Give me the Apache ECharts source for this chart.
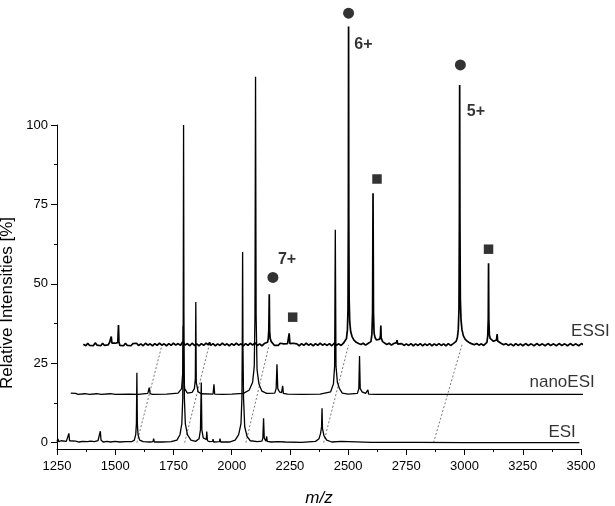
<!DOCTYPE html>
<html>
<head>
<meta charset="utf-8">
<title>Relative Intensities - ESI / nanoESI / ESSI</title>
<script src="https://cdn.jsdelivr.net/npm/echarts@6/dist/echarts.min.js"></script>
<style>
  html, body { margin: 0; padding: 0; background: #fff; }
  #chart { width: 615px; height: 506px; }
</style>
</head>
<body>
<div id="chart"></div>
<script>
/**
 * Stacked mass spectra: ESI, nanoESI and ESSI (offset baselines).
 */

// axis ticks
var xLabels = [1250, 1500, 1750, 2000, 2250, 2500, 2750, 3000, 3250, 3500];
var xMinorTicks = [1375, 1625, 1875, 2125, 2375, 2625, 2875, 3125, 3375];
var yLabels = [0, 25, 50, 75, 100];
var yMinorTicks = [12.5, 37.5, 62.5, 87.5];

// trace names and the point their label is anchored to (right / middle)
var traceNames = ['ESI', 'nanoESI', 'ESSI'];
var traceLabelAt = [[3480, 3.0], [3561, 18.8], [3626, 34.8]];

// ESI spectrum, baseline 0  [m/z, %]
var esiData = [
  [1250, 0.4], [1254, 1.2], [1258, 0.3], [1268, 0.6], [1276, 0.3], [1290, 0.4], [1298, 0.8], [1301, 2.9],
  [1304, 0.6], [1312, 0.3], [1330, 0.5], [1345, 0.2], [1360, 0.4], [1380, 0.3], [1395, 0.5], [1410, 0.3],
  [1426, 0.6], [1433, 1.2], [1436, 3.6], [1439, 0.8], [1448, 0.2], [1465, 0.4], [1480, 0.2], [1500, 0.4],
  [1520, 0.2], [1545, 0.3], [1570, 0.3], [1582, 0.8], [1588, 2.5], [1591, 6], [1593, 22], [1595, 6],
  [1598, 2.5], [1605, 0.8], [1620, 0.3], [1650, 0.2], [1662, 0.3], [1665, 1.3], [1668, 0.2], [1700, 0.2],
  [1740, 0.3], [1765, 0.8], [1778, 2.5], [1786, 6], [1790, 14], [1792, 40], [1793.5, 100], [1795, 40],
  [1797, 14], [1801, 6], [1810, 2.5], [1825, 0.8], [1845, 0.4], [1860, 1.2], [1866, 4], [1869.5, 18.9],
  [1872, 4], [1878, 1.5], [1886, 1], [1891, 1], [1893, 3.5], [1896, 0.6], [1905, 0.3], [1918, 0.4],
  [1920, 1.1], [1923, 0.2], [1948, 0.3], [1950, 1.3], [1953, 0.2], [1990, 0.2], [2015, 0.8], [2030, 2.5],
  [2040, 6], [2044, 14], [2045.5, 30], [2047, 60], [2048.5, 30], [2051, 14], [2056, 5], [2066, 2],
  [2080, 0.6], [2110, 0.3], [2130, 0.5], [2134, 1.5], [2137, 7.7], [2140, 1.4], [2147, 0.5], [2150, 2],
  [2153, 0.4], [2170, 0.2], [2200, 0.3], [2230, 0.2], [2300, 0.1], [2360, 0.4], [2375, 1.2], [2382, 3],
  [2386, 5], [2388, 10.8], [2390, 4.5], [2396, 2.2], [2408, 0.8], [2430, 0.2], [2470, 0.4], [2475, 0.1],
  [2600, 0.1], [2800, 0.1], [3000, 0], [3250, 0], [3493, 0]
];

// nanoESI spectrum, baseline 15.2
var nanoData = [
  [1309, 15.6], [1312, 15.2], [1330, 15.5], [1340, 15.2], [1370, 15.4], [1390, 15.2], [1420, 15.4], [1440, 15.2],
  [1480, 15.4], [1500, 15.2], [1560, 15.3], [1600, 15.2], [1640, 15.5], [1646, 17.3], [1650, 15.4], [1660, 15.2],
  [1720, 15.3], [1770, 15.6], [1785, 17], [1790, 22], [1792, 36.7], [1794, 22], [1798, 17], [1810, 15.6],
  [1830, 15.8], [1840, 17], [1844, 20], [1846, 44.3], [1848, 19], [1852, 17.5], [1856, 16], [1870, 15.4],
  [1920, 15.3], [1924, 18.4], [1927, 15.3], [1960, 15.2], [2000, 15.3], [2050, 15.5], [2075, 16.5], [2090, 19],
  [2097, 24], [2100, 40], [2102.5, 115.2], [2105, 40], [2109, 23], [2117, 18.5], [2130, 16.2], [2150, 15.5],
  [2185, 15.6], [2191, 17], [2194.5, 24.7], [2198, 17], [2205, 16], [2214, 15.7], [2219, 17.9], [2222, 15.5],
  [2240, 15.3], [2300, 15.2], [2380, 15.3], [2425, 16], [2437, 18.5], [2442, 24], [2445, 67], [2448, 24],
  [2454, 19], [2463, 17], [2475, 15.6], [2500, 15.3], [2540, 15.5], [2546, 17], [2549, 27.3], [2552, 17],
  [2560, 16], [2575, 15.5], [2585, 16.6], [2588, 15.3], [2620, 15.2], [2800, 15.2], [2918, 15.2], [2920, 15.8],
  [2922, 15.2], [3200, 15.2], [3561, 15.2]
];

// ESSI spectrum, baseline 30.8 (noisy)
var essiData = [
  [1363, 31.0], [1368, 31.6], [1374, 30.5], [1382, 31.3], [1390, 30.6], [1398, 31.2], [1406, 30.5], [1414, 31.4],
  [1422, 30.7], [1430, 31.1], [1438, 30.5], [1446, 31.3], [1454, 30.6], [1462, 31.2], [1470, 30.8], [1476, 31.6],
  [1480, 31.4], [1483, 33.4], [1486, 31.3], [1492, 30.7], [1500, 31.3], [1506, 30.8], [1511, 31.5], [1514, 37.0],
  [1516, 31.8], [1520, 30.6], [1528, 31.2], [1536, 30.5], [1544, 31.3], [1552, 30.6], [1560, 31.1], [1568, 30.5],
  [1576, 31.2], [1584, 30.7], [1592, 31.3], [1600, 30.6], [1610, 31.1], [1620, 30.5], [1630, 31.3], [1640, 30.7],
  [1650, 31.1], [1660, 30.5], [1670, 31.2], [1680, 30.6], [1690, 31.3], [1700, 30.7], [1710, 31.1], [1720, 30.5],
  [1730, 31.2], [1740, 30.6], [1750, 31.3], [1760, 30.7], [1770, 31.2], [1780, 30.6], [1790, 31.8], [1800, 30.7],
  [1810, 31.2], [1820, 30.5], [1830, 31.3], [1840, 30.6], [1850, 31.1], [1860, 30.5], [1870, 31.2], [1880, 30.6],
  [1890, 31.3], [1900, 30.8], [1905, 31.6], [1910, 30.6], [1920, 31.2], [1930, 30.5], [1940, 31.1], [1950, 30.6],
  [1960, 31.3], [1970, 30.7], [1980, 31.1], [1990, 30.5], [2000, 31.2], [2010, 30.6], [2020, 31.3], [2030, 30.7],
  [2040, 31.1], [2050, 30.5], [2060, 31.2], [2070, 30.6], [2080, 31.3], [2090, 30.7], [2100, 31.4], [2110, 30.6],
  [2120, 31.1], [2130, 30.5], [2140, 31.2], [2148, 30.8], [2154, 31.6], [2157, 32.6], [2159.5, 35.5], [2161.5, 46.7],
  [2163, 35.2], [2165.5, 32.8], [2170, 31.8], [2176, 31.2], [2184, 30.6], [2192, 31.2], [2200, 30.6], [2208, 31.3],
  [2216, 30.7], [2224, 31.1], [2232, 30.6], [2240, 31.2], [2244, 31.4], [2247, 34.4], [2250, 31.2], [2256, 30.6],
  [2264, 31.3], [2272, 30.7], [2280, 31.1], [2290, 30.5], [2300, 31.2], [2310, 30.6], [2320, 31.3], [2330, 30.7],
  [2340, 31.1], [2350, 30.5], [2360, 31.2], [2370, 30.6], [2380, 31.3], [2390, 30.7], [2400, 31.1], [2410, 30.6],
  [2420, 31.2], [2430, 30.5], [2440, 31.3], [2450, 30.7], [2460, 31.1], [2470, 30.6], [2480, 31.3], [2488, 31.8],
  [2493, 32.8], [2497, 35.5], [2499.5, 42], [2501, 70], [2502, 131], [2503, 70], [2504.5, 45], [2507, 38],
  [2511, 35], [2517, 33.4], [2525, 32.3], [2535, 31.6], [2545, 31.2], [2555, 30.9], [2565, 31.3], [2575, 30.7],
  [2585, 31.2], [2593, 31.0], [2598, 31.8], [2602, 34], [2605, 41], [2607, 78.5], [2609, 41], [2611.5, 34.5],
  [2616, 33], [2622, 32.3], [2630, 32], [2636, 32.6], [2639, 33.8], [2640.5, 36.9], [2642, 33], [2648, 31.8],
  [2656, 31.5], [2666, 30.9], [2676, 31.3], [2686, 30.7], [2696, 31.2], [2704, 31.0], [2708, 31.5], [2710, 32.3],
  [2713, 31.0], [2720, 30.7], [2730, 31.2], [2740, 30.6], [2750, 31.1], [2760, 30.6], [2770, 31.2], [2780, 30.5],
  [2790, 31.1], [2800, 30.6], [2810, 31.2], [2820, 30.5], [2830, 31.1], [2840, 30.6], [2850, 31.2], [2860, 30.5],
  [2870, 31.1], [2880, 30.6], [2890, 31.2], [2900, 30.6], [2910, 31.1], [2920, 30.5], [2930, 31.2], [2940, 30.6],
  [2950, 31.1], [2958, 31.2], [2964, 31.9], [2969, 33], [2973, 35.5], [2976, 42], [2977.8, 70], [2979, 112.6],
  [2980.2, 70], [2982, 45], [2985, 38.5], [2989, 35.5], [2995, 33.6], [3003, 32.5], [3012, 31.9], [3022, 31.4],
  [3032, 31.1], [3042, 30.8], [3052, 31.2], [3062, 30.7], [3072, 31.1], [3082, 30.6], [3090, 31.2], [3096, 31.6],
  [3099.5, 33.5], [3101.8, 39], [3103, 56.5], [3104.2, 39], [3106.5, 34], [3110, 32.8], [3116, 32.2], [3124, 31.9],
  [3132, 31.8], [3137, 32.3], [3140, 34.2], [3142, 32], [3148, 31.5], [3158, 31.2], [3168, 30.8], [3178, 31.2],
  [3188, 30.6], [3198, 31.1], [3210, 30.5], [3220, 31.2], [3230, 30.6], [3240, 31.1], [3250, 30.5], [3262, 31.2],
  [3274, 30.6], [3286, 31.1], [3298, 30.5], [3310, 31.2], [3322, 30.6], [3334, 31.1], [3346, 30.5], [3358, 31.2],
  [3370, 30.6], [3382, 31.1], [3394, 30.5], [3406, 31.2], [3418, 30.6], [3430, 31.1], [3442, 30.5], [3454, 31.2],
  [3466, 30.6], [3478, 31.1], [3490, 30.5], [3502, 31.2], [3514, 30.6], [3526, 31.1], [3538, 30.5], [3550, 31.2],
  [3562, 30.6], [3574, 31.1], [3586, 30.5], [3598, 31.0], [3608, 30.6], [3618, 30.8]
];

// dotted links from an ESI peak foot to the shifted ESSI peak foot
var linkLines = [
  [[1593, 0], [1701, 30.8]],
  [[1798, 0], [1904, 30.8]],
  [[2061, 0], [2161, 30.8]],
  [[2395, 0], [2502, 30.8]],
  [[2867, 0], [2989, 30.8]]
];

// markers
var circleMarks = [[2177, 52], [2502, 135.2], [2982, 118.9]];
var squareMarks = [[2262, 39.5], [2624, 83], [3103, 60.9]];

// charge states and where their text sits
var chargeStates = ['7+', '6+', '5+'];
var chargeLabelAt = [[2238, 57.7], [2566, 125.2], [3049, 104.2]];

var FONT = '"Liberation Sans", Arial, Helvetica, sans-serif';
var INK = '#000';

var chart = echarts.init(document.getElementById('chart'));

// 画一条谱线
function traceSeries(name, data, width) {
  return {
    name: name,
    type: 'line',
    data: data,
    symbol: 'none',
    showSymbol: false,
    clip: false,
    silent: true,
    z: 3,
    lineStyle: { color: INK, width: width }
  };
}

function textSeries(points, names, label) {
  return {
    type: 'scatter',
    symbolSize: 1,
    itemStyle: { color: 'transparent' },
    clip: false,
    silent: true,
    z: 5,
    data: points.map(function (p, i) {
      return { value: p, name: names[i] };
    }),
    label: label
  };
}

var series = [
  traceSeries('ESI', esiData, 1.3),
  traceSeries('nanoESI', nanoData, 1.3),
  traceSeries('ESSI', essiData, 1.7)
];

linkLines.forEach(function (pair) {
  series.push({
    type: 'line',
    data: pair,
    symbol: 'none',
    clip: false,
    silent: true,
    z: 2,
    lineStyle: { color: '#777', width: 1, type: [2, 2] }
  });
});

series.push({
  type: 'scatter',
  data: circleMarks,
  symbol: 'circle',
  symbolSize: 11,
  clip: false,
  silent: true,
  itemStyle: { color: '#000' }
});
series.push({
  type: 'scatter',
  data: squareMarks,
  symbol: 'rect',
  symbolSize: 9.5,
  clip: false,
  silent: true,
  itemStyle: { color: '#000' }
});

series.push(textSeries(chargeLabelAt, chargeStates, {
  show: true,
  position: 'inside',
  formatter: '{b}',
  color: INK,
  fontFamily: FONT,
  fontSize: 16,
  fontWeight: 'bold'
}));

series.push(textSeries(traceLabelAt, traceNames, {
  show: true,
  position: [0, 0],
  align: 'right',
  verticalAlign: 'middle',
  formatter: '{b}',
  color: INK,
  fontFamily: FONT,
  fontSize: 17
}));

function plainNumber(v) {
  return String(v);
}

function valueAxis(min, max, pos, main, labels, ticks, tickLen, margin) {
  return {
    type: 'value',
    position: pos,
    min: min,
    max: max,
    splitLine: { show: false },
    axisLine: { show: main, onZero: false, lineStyle: { color: INK, width: 1 } },
    axisTick: { show: true, customValues: ticks, length: tickLen, lineStyle: { color: INK, width: 1 } },
    axisLabel: main ? {
      show: true,
      customValues: labels,
      formatter: plainNumber,
      margin: margin,
      color: INK,
      fontFamily: FONT,
      fontSize: 13
    } : { show: false }
  };
}

var xMain = valueAxis(1250, 3500, 'bottom', true, xLabels, xLabels, 6, 11);
xMain.name = 'm/z';
xMain.nameLocation = 'middle';
xMain.nameGap = 41;
xMain.nameTextStyle = { fontFamily: FONT, fontSize: 17, fontStyle: 'italic', color: INK };

var option = {
  animation: false,
  backgroundColor: '#fff',
  grid: { left: 57, right: 34, top: 125, bottom: 57, containLabel: false, outerBoundsMode: 'none' },
  xAxis: [
    xMain,
    valueAxis(1250, 3500, 'bottom', false, [], xMinorTicks, 3, 0)
  ],
  yAxis: [
    valueAxis(-2, 100, 'left', true, yLabels, yLabels, 6, 9),
    valueAxis(-2, 100, 'left', false, [], yMinorTicks, 3, 0)
  ],
  graphic: [{
    type: 'text',
    x: 7,
    y: 303,
    rotation: Math.PI / 2,
    style: {
      text: 'Relative Intensities [%]',
      fill: INK,
      font: '17px ' + FONT,
      textAlign: 'center',
      textVerticalAlign: 'middle'
    }
  }],
  series: series
};

chart.setOption(option);
</script>
</body>
</html>
